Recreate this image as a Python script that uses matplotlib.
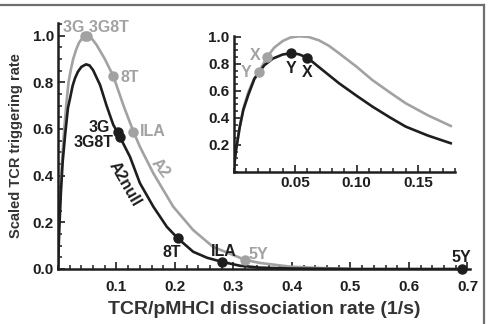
import matplotlib
matplotlib.use('Agg')
import matplotlib.pyplot as plt
from matplotlib.ticker import MultipleLocator
from matplotlib.lines import Line2D

plt.rcParams['font.family'] = ['Liberation Sans', 'DejaVu Sans']
plt.rcParams['font.weight'] = 'bold'

GRAY = '#a2a2a2'
DARK = '#1e1e1e'

# main panel: A2 (gray) and A2null (black) curves
a2_k = [0, 0.002, 0.006, 0.010, 0.014, 0.018, 0.022, 0.026, 0.031, 0.036, 0.042, 0.048,
        0.057, 0.066, 0.080, 0.0946, 0.112, 0.129, 0.140, 0.163, 0.197, 0.231, 0.265,
        0.32, 0.345, 0.397, 0.45, 0.50]
a2_v = [0, 0.20, 0.42, 0.58, 0.70, 0.80, 0.855, 0.90, 0.94, 0.97, 0.99, 1.0,
        0.99, 0.96, 0.90, 0.826, 0.70, 0.588, 0.524, 0.41, 0.267, 0.167, 0.095,
        0.039, 0.026, 0.010, 0.004, 0.001]

null_k = [0, 0.002, 0.005, 0.008, 0.012, 0.017, 0.0205, 0.025, 0.029, 0.034, 0.040, 0.048,
          0.054, 0.060, 0.072, 0.083, 0.0946, 0.102, 0.106, 0.123, 0.140, 0.163, 0.186,
          0.205, 0.231, 0.255, 0.280, 0.311, 0.345, 0.40, 0.50, 0.60, 0.69]
null_v = [0, 0.16, 0.33, 0.46, 0.57, 0.69, 0.73, 0.785, 0.817, 0.845, 0.866, 0.877,
          0.872, 0.852, 0.788, 0.70, 0.617, 0.585, 0.565, 0.481, 0.368, 0.267, 0.181,
          0.131, 0.074, 0.048, 0.031, 0.014, 0.006, 0.002, 0, 0, 0]

# labelled points on the main panel
a2_pt_names = ['3G', '3G8T', '8T', 'ILA', '5Y']
a2_pt_k = [0.046, 0.050, 0.0946, 0.129, 0.32]
a2_pt_v = [0.999, 1.0, 0.826, 0.588, 0.039]
null_pt_names = ['3G', '3G8T', '8T', 'ILA', '5Y']
null_pt_k = [0.102, 0.106, 0.205, 0.280, 0.69]
null_pt_v = [0.585, 0.565, 0.131, 0.031, 0.0]

# inset curves
in_gray_k = [0, 0.002, 0.005, 0.008, 0.012, 0.0167, 0.0207, 0.0275, 0.033, 0.040, 0.046,
             0.053, 0.061, 0.0695, 0.0775, 0.0858, 0.100, 0.113, 0.127, 0.140, 0.158, 0.1766]
in_gray_v = [0, 0.16, 0.33, 0.47, 0.59, 0.69, 0.743, 0.854, 0.92, 0.97, 0.995,
             1.005, 1.0, 0.975, 0.935, 0.879, 0.78, 0.68, 0.59, 0.509, 0.42, 0.341]
in_dark_k = [0, 0.002, 0.005, 0.008, 0.012, 0.017, 0.021, 0.025, 0.032, 0.040, 0.0465,
             0.053, 0.060, 0.072, 0.0858, 0.100, 0.113, 0.127, 0.140, 0.158, 0.1766]
in_dark_v = [0, 0.16, 0.33, 0.46, 0.57, 0.69, 0.74, 0.79, 0.84, 0.87, 0.879,
             0.872, 0.847, 0.758, 0.657, 0.565, 0.484, 0.405, 0.336, 0.27, 0.213]
in_gray_pt_k = [0.0207, 0.0275]   # Y, X
in_gray_pt_v = [0.743, 0.854]
in_dark_pt_k = [0.0465, 0.060]    # Y, X
in_dark_pt_v = [0.879, 0.847]

fig = plt.figure(figsize=(4.91, 3.24), dpi=100)

ax = fig.add_axes([58 / 491, 55 / 324, 412.4 / 491, 246 / 324])
ax.plot(a2_k, a2_v, color=GRAY, lw=1.9, solid_capstyle='round', zorder=2)
ax.plot(null_k, null_v, color=DARK, lw=1.9, solid_capstyle='round', zorder=3)
ax.plot(a2_pt_k, a2_pt_v, 'o', color=GRAY, ms=6.5, zorder=4)
ax.plot(null_pt_k, null_pt_v, 'o', color=DARK, ms=6.5, zorder=5, clip_on=False)

ax.set_xlim(0, 0.705)
ax.set_ylim(0, 1.054)
ax.xaxis.set_minor_locator(MultipleLocator(0.02))
ax.yaxis.set_minor_locator(MultipleLocator(0.05))
ax.set_xticks([0.1, 0.2, 0.3, 0.4, 0.5, 0.6, 0.7])
ax.set_xticklabels(['0.1', '0.2', '0.3', '0.4', '0.5', '0.6', '0.7'])
ax.set_yticks([0.0, 0.2, 0.4, 0.6, 0.8, 1.0])
ax.set_yticklabels(['0.0', '0.2', '0.4', '0.6', '0.8', '1.0'])
for s in ['top', 'right']:
    ax.spines[s].set_visible(False)
for s in ['left', 'bottom']:
    ax.spines[s].set_linewidth(1.8)
    ax.spines[s].set_color(DARK)
ax.tick_params(axis='x', which='major', direction='in', length=5, width=1.2, pad=8,
               labelsize=11, colors=DARK)
ax.tick_params(axis='y', which='major', direction='in', length=5, width=1.2, pad=3,
               labelsize=11, colors=DARK)
ax.tick_params(which='minor', direction='in', length=3, width=1.1, colors=DARK)
ax.set_xlabel('TCR/pMHCI dissociation rate (1/s)', fontsize=14, fontweight='bold',
              color='#333333', labelpad=5)
ax.set_ylabel('Scaled TCR triggering rate', fontsize=10.5, fontweight='bold',
              color='#333333', labelpad=7)

tk = dict(fontsize=11.5, fontweight='bold')
ax.text(0.0085, 1.034, '3G 3G8T', color=GRAY, ha='left', va='center', **tk)
ax.text(0.106, 0.822, '8T', color=GRAY, ha='left', va='center', **tk)
ax.text(0.140, 0.591, 'ILA', color=GRAY, ha='left', va='center', **tk)
ax.text(0.343, 0.064, '5Y', color=GRAY, ha='center', va='center', **tk)
ax.text(0.0889, 0.608, '3G', color=DARK, ha='right', va='center', **tk)
ax.text(0.094, 0.542, '3G8T', color=DARK, ha='right', va='center', **tk)
ax.text(0.194, 0.071, '8T', color=DARK, ha='center', va='center', **tk)
ax.text(0.283, 0.077, 'ILA', color=DARK, ha='center', va='center', **tk)
ax.text(0.689, 0.049, '5Y', color=DARK, ha='center', va='center', **tk)
ax.text(0.115, 0.365, 'A2null', color=DARK, ha='center', va='center', rotation=-60, **tk)
ax.text(0.175, 0.43, 'A2', color=GRAY, ha='center', va='center', rotation=-52, **tk)

# inset
ins = fig.add_axes([233.5 / 491, 152 / 324, 221.4 / 491, 136.4 / 324])
ins.plot(in_gray_k, in_gray_v, color=GRAY, lw=1.9, zorder=2)
ins.plot(in_dark_k, in_dark_v, color=DARK, lw=1.9, zorder=3)
ins.plot(in_gray_pt_k, in_gray_pt_v, 'o', color=GRAY, ms=6.5, zorder=4)
ins.plot(in_dark_pt_k, in_dark_pt_v, 'o', color=DARK, ms=6.5, zorder=5)
ins.set_xlim(0, 0.18)
ins.set_ylim(0, 1.01)
ins.set_xticks([0.05, 0.10, 0.15])
ins.set_xticklabels(['0.05', '0.10', '0.15'])
ins.xaxis.set_minor_locator(MultipleLocator(0.01))
ins.set_yticks([0.2, 0.4, 0.6, 0.8, 1.0])
ins.set_yticklabels(['0.2', '0.4', '0.6', '0.8', '1.0'])
ins.yaxis.set_minor_locator(MultipleLocator(0.05))
ins.patch.set_alpha(0)
for s in ['top', 'right']:
    ins.spines[s].set_visible(False)
for s in ['left', 'bottom']:
    ins.spines[s].set_linewidth(1.8)
    ins.spines[s].set_color(DARK)
ins.tick_params(which='major', direction='in', length=5, width=1.2, pad=3,
                labelsize=11, colors=DARK)
ins.tick_params(which='minor', direction='in', length=3, width=1.1, colors=DARK)
ins.text(0.0175, 0.865, 'X', color=GRAY, ha='center', va='center', **tk)
ins.text(0.010, 0.74, 'Y', color=GRAY, ha='center', va='center', **tk)
ins.text(0.0467, 0.77, 'Y', color=DARK, ha='center', va='center', **tk)
ins.text(0.060, 0.74, 'X', color=DARK, ha='center', va='center', **tk)

# partial frame (top and right edges)
fig.add_artist(Line2D([0, 484 / 491], [1 - 4.5 / 324] * 2, color='#6e6e6e', lw=1.6))
fig.add_artist(Line2D([484 / 491] * 2, [0, 1 - 4.5 / 324], color='#6e6e6e', lw=1.6))

fig.savefig('out.png', dpi=100)
